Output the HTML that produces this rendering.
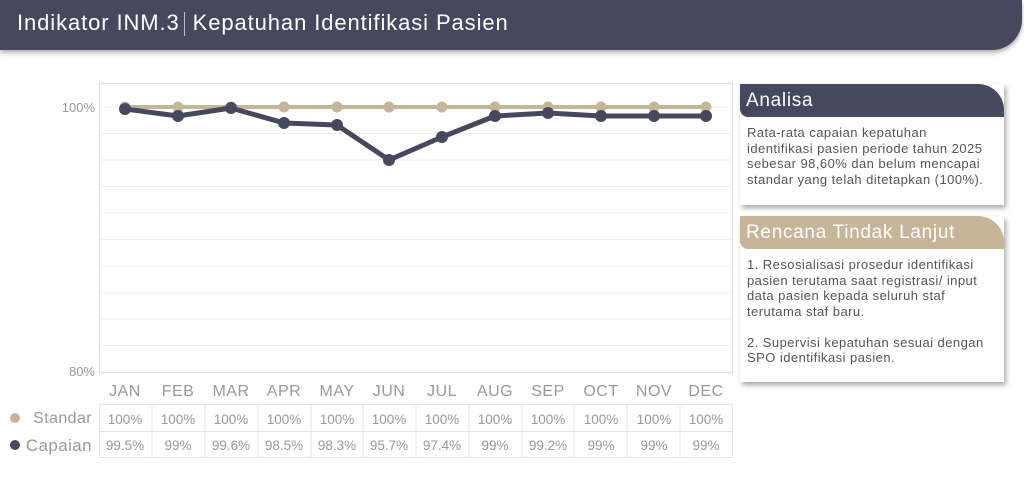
<!DOCTYPE html>
<html><head><meta charset="utf-8"><style>
*{margin:0;padding:0;box-sizing:border-box}
body{width:1024px;height:480px;background:#fff;font-family:"Liberation Sans",sans-serif;position:relative;overflow:hidden}
.hdr{position:absolute;left:0;top:0;width:1022px;height:50px;background:#46485e;border-bottom-right-radius:30px;box-shadow:0 3px 5px rgba(0,0,0,.3);color:#fff;font-size:22px;letter-spacing:0.9px;line-height:46px;padding-left:17px}
.hdr .sep{display:inline-block;width:1px;height:24px;background:#bbb;vertical-align:middle;margin:0 8px 0 4px}
.panel{position:absolute;left:740px;width:264px;background:#fff;box-shadow:2px 3px 5px rgba(0,0,0,.35)}
.ph{height:33px;color:#fff;font-size:19px;letter-spacing:0.7px;line-height:33px;padding-left:6px;border-top-right-radius:26px;border-bottom-left-radius:8px}
.pb{font-size:13px;color:#555;line-height:15.5px;padding:8px 4px 0 7px;white-space:nowrap;letter-spacing:0.45px}
</style></head><body>
<div class="hdr">Indikator INM.3<span class="sep"></span>Kepatuhan Identifikasi Pasien</div>
<svg width="1024" height="480" style="position:absolute;left:0;top:0">
<rect x="99.5" y="83.5" width="633" height="289" fill="#fff" stroke="#ddd"/>
<g stroke="#eee">
<line x1="100" x2="732" y1="107" y2="107"/><line x1="100" x2="732" y1="133.5" y2="133.5"/><line x1="100" x2="732" y1="160" y2="160"/><line x1="100" x2="732" y1="186.5" y2="186.5"/><line x1="100" x2="732" y1="213" y2="213"/><line x1="100" x2="732" y1="239.5" y2="239.5"/><line x1="100" x2="732" y1="266" y2="266"/><line x1="100" x2="732" y1="292.5" y2="292.5"/><line x1="100" x2="732" y1="319" y2="319"/><line x1="100" x2="732" y1="345.5" y2="345.5"/>
</g>
<g font-size="13" fill="#999" text-anchor="end"><text x="95" y="112">100%</text><text x="95" y="376">80%</text></g>
<polyline points="125,107 178,107 231,107 284,107 337,107 389,107 442,107 495,107 548,107 601,107 654,107 706,107" fill="none" stroke="#c7b59a" stroke-width="4"/>
<g fill="#c7b59a"><circle cx="125" cy="107" r="5.5"/><circle cx="178" cy="107" r="5.5"/><circle cx="231" cy="107" r="5.5"/><circle cx="284" cy="107" r="5.5"/><circle cx="337" cy="107" r="5.5"/><circle cx="389" cy="107" r="5.5"/><circle cx="442" cy="107" r="5.5"/><circle cx="495" cy="107" r="5.5"/><circle cx="548" cy="107" r="5.5"/><circle cx="601" cy="107" r="5.5"/><circle cx="654" cy="107" r="5.5"/><circle cx="706" cy="107" r="5.5"/></g>
<polyline points="125,109 178,116 231,108 284,123 337,125 389,160 442,137 495,116 548,113 601,116 654,116 706,116" fill="none" stroke="#46485e" stroke-width="5" stroke-linejoin="round"/>
<g fill="#46485e"><circle cx="125" cy="109" r="6"/><circle cx="178" cy="116" r="6"/><circle cx="231" cy="108" r="6"/><circle cx="284" cy="123" r="6"/><circle cx="337" cy="125" r="6"/><circle cx="389" cy="160" r="6"/><circle cx="442" cy="137" r="6"/><circle cx="495" cy="116" r="6"/><circle cx="548" cy="113" r="6"/><circle cx="601" cy="116" r="6"/><circle cx="654" cy="116" r="6"/><circle cx="706" cy="116" r="6"/></g>
<g font-size="16" fill="#999" text-anchor="middle" letter-spacing="0.5">
<text x="125" y="396">JAN</text><text x="178" y="396">FEB</text><text x="231" y="396">MAR</text><text x="284" y="396">APR</text><text x="337" y="396">MAY</text><text x="389" y="396">JUN</text><text x="442" y="396">JUL</text><text x="495" y="396">AUG</text><text x="548" y="396">SEP</text><text x="601" y="396">OCT</text><text x="654" y="396">NOV</text><text x="706" y="396">DEC</text>
</g>
<g stroke="#e4e4e4" fill="none">
<rect x="99.5" y="404.5" width="633" height="53"/><line x1="99" x2="733" y1="431.5" y2="431.5"/>
<line x1="152" x2="152" y1="404" y2="458"/><line x1="205" x2="205" y1="404" y2="458"/><line x1="258" x2="258" y1="404" y2="458"/><line x1="311" x2="311" y1="404" y2="458"/><line x1="363" x2="363" y1="404" y2="458"/><line x1="416" x2="416" y1="404" y2="458"/><line x1="469" x2="469" y1="404" y2="458"/><line x1="522" x2="522" y1="404" y2="458"/><line x1="574" x2="574" y1="404" y2="458"/><line x1="627" x2="627" y1="404" y2="458"/><line x1="680" x2="680" y1="404" y2="458"/>
</g>
<circle cx="15" cy="418" r="5" fill="#c7b59a"/><circle cx="15" cy="445" r="5" fill="#46485e"/>
<text x="92" y="423" font-size="16" fill="#999" text-anchor="end" letter-spacing="0.4">Standar</text>
<text x="92" y="451" font-size="17" fill="#999" text-anchor="end" letter-spacing="0.4">Capaian</text>
<g font-size="13.5" fill="#999" text-anchor="middle">
<text x="125" y="424">100%</text><text x="178" y="424">100%</text><text x="231" y="424">100%</text><text x="284" y="424">100%</text><text x="337" y="424">100%</text><text x="389" y="424">100%</text><text x="442" y="424">100%</text><text x="495" y="424">100%</text><text x="548" y="424">100%</text><text x="601" y="424">100%</text><text x="654" y="424">100%</text><text x="706" y="424">100%</text>
<text x="125" y="450">99.5%</text><text x="178" y="450">99%</text><text x="231" y="450">99.6%</text><text x="284" y="450">98.5%</text><text x="337" y="450">98.3%</text><text x="389" y="450">95.7%</text><text x="442" y="450">97.4%</text><text x="495" y="450">99%</text><text x="548" y="450">99.2%</text><text x="601" y="450">99%</text><text x="654" y="450">99%</text><text x="706" y="450">99%</text>
</g>
</svg>
<div class="panel" style="top:84px;height:121px"><div class="ph" style="background:#46485e">Analisa</div><div class="pb">Rata-rata capaian kepatuhan<br>identifikasi pasien periode tahun 2025<br>sebesar 98,60% dan belum mencapai<br>standar yang telah ditetapkan (100%).</div></div>
<div class="panel" style="top:216px;height:166px"><div class="ph" style="background:#c7b59a">Rencana Tindak Lanjut</div><div class="pb">1. Resosialisasi prosedur identifikasi<br>pasien terutama saat registrasi/ input<br>data pasien kepada seluruh staf<br>terutama staf baru.<br><br>2. Supervisi kepatuhan sesuai dengan<br>SPO identifikasi pasien.</div></div>
</body></html>
